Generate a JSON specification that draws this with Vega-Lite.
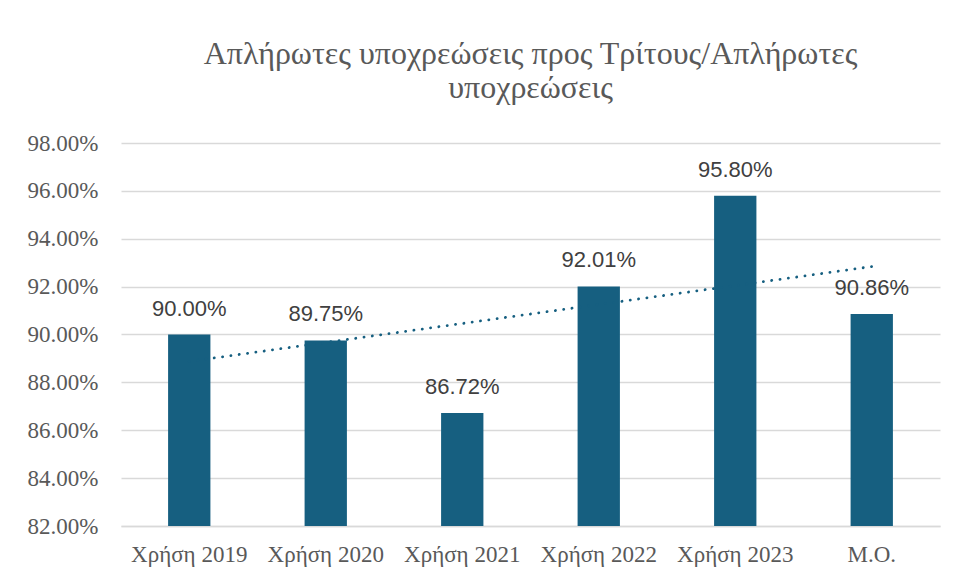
{
  "$schema": "https://vega.github.io/schema/vega-lite/v6.json",
  "autosize": {"type": "none"},
  "width": 819,
  "height": 383,
  "padding": {"left": 121, "top": 143, "right": 17, "bottom": 50},
  "background": "white",
  "config": {"view": {"stroke": null}},
  "title": {
    "text": ["Απλήρωτες υποχρεώσεις προς Τρίτους/Απλήρωτες", "υποχρεώσεις"],
    "font": "Liberation Serif",
    "fontSize": 32,
    "fontWeight": "normal",
    "color": "#595959",
    "anchor": "middle",
    "frame": "group",
    "lineHeight": 34,
    "offset": 27
  },
  "data": {
    "values": [
      {"cat": "Χρήση 2019", "value": 0.9000, "trend": 0.88875},
      {"cat": "Χρήση 2020", "value": 0.8975, "trend": 0.89668},
      {"cat": "Χρήση 2021", "value": 0.8672, "trend": 0.90460},
      {"cat": "Χρήση 2022", "value": 0.9201, "trend": 0.91253},
      {"cat": "Χρήση 2023", "value": 0.9580, "trend": 0.92045},
      {"cat": "Μ.Ο.", "value": 0.9086, "trend": 0.92838}
    ]
  },
  "encoding": {
    "x": {
      "field": "cat",
      "type": "nominal",
      "sort": null,
      "title": null,
      "scale": {"paddingInner": 0.69, "paddingOuter": 0.345},
      "axis": {
        "labelAngle": 0,
        "labelFont": "Liberation Serif",
        "labelFontSize": 23,
        "labelColor": "#595959",
        "labelPadding": 17,
        "ticks": false,
        "domainColor": "#d9d9d9",
        "domainWidth": 1.5
      }
    }
  },
  "layer": [
    {
      "mark": {"type": "bar", "color": "#165f80", "clip": true},
      "encoding": {
        "y": {
          "field": "value",
          "type": "quantitative",
          "title": null,
          "scale": {"domain": [0.82, 0.98], "nice": false, "zero": false},
          "axis": {
            "values": [0.82, 0.84, 0.86, 0.88, 0.90, 0.92, 0.94, 0.96, 0.98],
            "format": ".2%",
            "labelFont": "Liberation Serif",
            "labelFontSize": 23,
            "labelColor": "#595959",
            "labelPadding": 23,
            "ticks": false,
            "domain": false,
            "gridColor": "#d9d9d9",
            "gridWidth": 1.5
          }
        }
      }
    },
    {
      "mark": {
        "type": "line",
        "color": "#165f80",
        "strokeWidth": 2.8,
        "strokeCap": "round",
        "strokeDash": [0.1, 8.3]
      },
      "encoding": {
        "y": {"field": "trend", "type": "quantitative"}
      }
    },
    {
      "mark": {
        "type": "text",
        "font": "Liberation Sans",
        "fontSize": 22,
        "color": "#404040",
        "baseline": "alphabetic",
        "dy": -19
      },
      "encoding": {
        "y": {"field": "value", "type": "quantitative"},
        "text": {"field": "value", "type": "quantitative", "format": ".2%"}
      }
    }
  ]
}
